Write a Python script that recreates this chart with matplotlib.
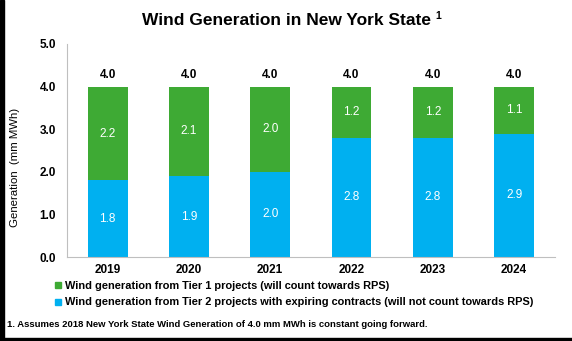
import matplotlib
matplotlib.use("Agg")
from matplotlib import pyplot as plt
from matplotlib.lines import Line2D
from matplotlib.patches import Rectangle
import numpy as np

plt.rcParams['font.family'] = ['Liberation Sans', 'DejaVu Sans']

years = ['2019', '2020', '2021', '2022', '2023', '2024']
tier2 = [1.8, 1.9, 2.0, 2.8, 2.8, 2.9]   # expiring contracts (bottom)
tier1 = [2.2, 2.1, 2.0, 1.2, 1.2, 1.1]   # Tier 1 projects (top)
totals = [4.0, 4.0, 4.0, 4.0, 4.0, 4.0]
yticks = [0.0, 1.0, 2.0, 3.0, 4.0, 5.0]

green = '#3EAA34'
blue = '#00B0F0'
axis_grey = '#BFBFBF'

fig = plt.figure(figsize=(5.72, 3.41), dpi=100)
ax = fig.add_axes([0.117, 0.246, 0.853, 0.625])

x = np.arange(len(years))
w = 0.49
ax.bar(x, tier2, width=w, color=blue)
ax.bar(x, tier1, width=w, bottom=tier2, color=green)

for i in range(len(years)):
    ax.text(x[i], tier2[i] / 2, '%.1f' % tier2[i], ha='center', va='center',
            color='white', fontsize=8.5)
    ax.text(x[i], tier2[i] + tier1[i] / 2, '%.1f' % tier1[i], ha='center',
            va='center', color='white', fontsize=8.5)
    ax.text(x[i], totals[i] + 0.14, '%.1f' % totals[i], ha='center',
            va='bottom', color='black', fontsize=8.5, fontweight='bold')

ax.set_xlim(-0.5, len(years) - 0.5)
ax.set_ylim(0, 5)
ax.set_xticks(x)
ax.set_xticklabels(years, fontsize=8.5, fontweight='bold')
ax.set_yticks(yticks)
ax.set_yticklabels(['%.1f' % t for t in yticks], fontsize=8.5, fontweight='bold')
ax.tick_params(length=0, pad=8)
ax.tick_params(axis='x', pad=5)
for s in ['top', 'right']:
    ax.spines[s].set_visible(False)
for s in ['left', 'bottom']:
    ax.spines[s].set_color(axis_grey)
    ax.spines[s].set_linewidth(0.8)
ax.set_ylabel('Generation  (mm MWh)', fontsize=8.2)
ax.yaxis.set_label_coords(-0.097, 0.42)

fig.text(0.5, 0.94, 'Wind Generation in New York State',
         ha='center', va='center', fontsize=12.5, fontweight='bold')
fig.text(0.762, 0.953, '1', ha='left', va='center', fontsize=7.5, fontweight='bold')

handles = [Line2D([], [], marker='s', linestyle='', color=green, markersize=4),
           Line2D([], [], marker='s', linestyle='', color=blue, markersize=4)]
labels = ['Wind generation from Tier 1 projects (will count towards RPS)',
          'Wind generation from Tier 2 projects with expiring contracts (will not count towards RPS)']
fig.legend(handles, labels, loc='upper left', bbox_to_anchor=(0.092, 0.175),
           frameon=False, prop={'weight': 'bold', 'size': 7.9},
           handletextpad=0.1, handlelength=1.0, labelspacing=0.55,
           borderaxespad=0, borderpad=0)

fig.text(0.012, 0.047, '1. Assumes 2018 New York State Wind Generation of 4.0 mm MWh is constant going forward.',
         ha='left', va='center', fontsize=6.8, fontweight='bold')

# dark frame edges
fig.patches.append(Rectangle((0, 0), 4 / 572, 1, transform=fig.transFigure,
                             color='black', zorder=10))
fig.patches.append(Rectangle((0, 0), 1, 3 / 341, transform=fig.transFigure,
                             color='black', zorder=10))

fig.savefig('out.png', dpi=100)
